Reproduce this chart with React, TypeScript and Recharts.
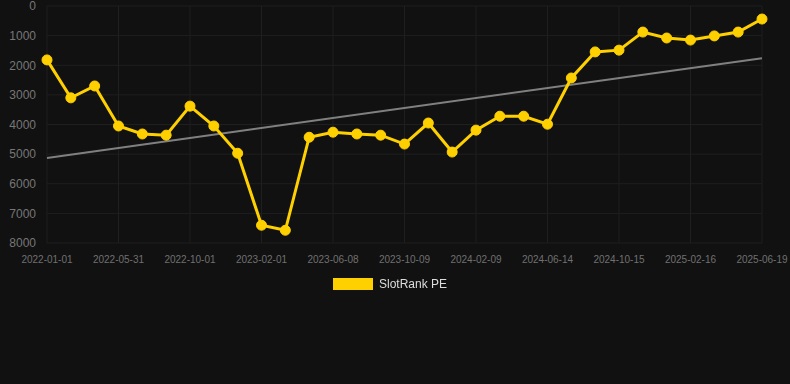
import { LineChart, Line, XAxis, YAxis, CartesianGrid, ReferenceLine, Legend } from 'recharts'

const dates = [
  '2022-01-01', '2022-02-20', '2022-04-11', '2022-05-31', '2022-07-11', '2022-08-21',
  '2022-10-01', '2022-11-01', '2022-12-01', '2023-02-01', '2023-03-12', '2023-04-25',
  '2023-06-08', '2023-07-19', '2023-08-29', '2023-10-09', '2023-11-19', '2023-12-30',
  '2024-02-09', '2024-03-20', '2024-05-02', '2024-06-14', '2024-07-25', '2024-09-04',
  '2024-10-15', '2024-11-25', '2025-01-05', '2025-02-16', '2025-03-28', '2025-05-08',
  '2025-06-19',
]

const peValues = [
  1820, 3100, 2700, 4050, 4320, 4360,
  3380, 4050, 4970, 7400, 7570, 4430,
  4260, 4320, 4360, 4660, 3950, 4930,
  4190, 3720, 3720, 3990, 2430, 1550,
  1490, 880, 1080, 1150, 1010, 880,
  440,
]

const yTicks = [0, 1000, 2000, 3000, 4000, 5000, 6000, 7000, 8000]

// trend line end points
const trendStart = 5130
const trendEnd = 1760

const YELLOW = '#ffd000'

const data = dates.map((d, i) => ({ date: d, pe: peValues[i] }))

function LegendContent() {
  return (
    <div style={{ display: 'flex', justifyContent: 'center', alignItems: 'center', gap: 6, height: 16 }}>
      <span style={{ width: 40, height: 12, background: YELLOW, display: 'inline-block' }} />
      <span style={{ color: '#dddddd', fontSize: 12, fontFamily: '"Liberation Sans", Arial, sans-serif' }}>
        SlotRank PE
      </span>
    </div>
  )
}

export default function App() {
  return (
    <div style={{ position: 'fixed', left: 0, top: 0, width: 790, height: 384, background: '#111111' }}>
      <LineChart
        width={790}
        height={384}
        data={data}
        margin={{ top: 6, right: 28, left: 0, bottom: 95 }}
      >
        <CartesianGrid stroke="#1f1f1f" strokeWidth={1} />
        <XAxis
          dataKey="date"
          interval={2}
          tickLine={false}
          axisLine={false}
          tickSize={0}
          tickMargin={13}
          tick={{ fill: '#707070', fontSize: 10, fontFamily: '"Liberation Sans", Arial, sans-serif' }}
        />
        <YAxis
          width={47}
          reversed
          domain={[0, 8000]}
          ticks={yTicks}
          interval={0}
          tickLine={false}
          axisLine={false}
          tickSize={0}
          tickMargin={11}
          tick={{ fill: '#777777', fontSize: 12, fontFamily: '"Liberation Sans", Arial, sans-serif' }}
        />
        <ReferenceLine
          segment={[
            { x: dates[0], y: trendStart },
            { x: dates[dates.length - 1], y: trendEnd },
          ]}
          stroke="#808080"
          strokeWidth={2}
        />
        <Line
          type="linear"
          dataKey="pe"
          name="SlotRank PE"
          stroke={YELLOW}
          strokeWidth={3}
          dot={{ r: 5, fill: YELLOW, stroke: YELLOW, strokeWidth: 1 }}
          activeDot={false}
          isAnimationActive={false}
        />
        <Legend
          content={<LegendContent />}
          wrapperStyle={{ top: 276, left: -5, width: 790 }}
        />
      </LineChart>
    </div>
  )
}
